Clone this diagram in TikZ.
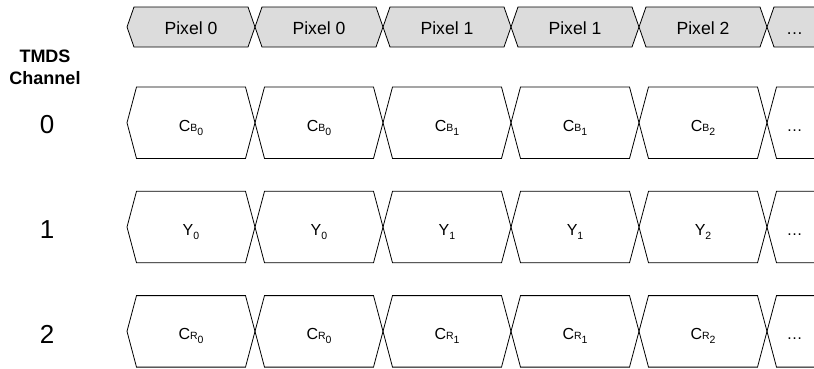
\documentclass[tikz,border=0pt]{standalone}
\usepackage{fontspec}
\setmainfont{Liberation Sans}
\definecolor{hdrgray}{RGB}{220,220,220}
\newcommand{\chlab}[3]{{\fontsize{16}{18}\selectfont #1}{\fontsize{10.5}{12}\selectfont #2\raisebox{-4pt}{#3}}}
\tikzset{
  slot/.style={draw=black, line width=0.8pt, line join=miter},
  hdrslot/.style={slot, fill=hdrgray},
  hdrtext/.style={inner sep=0pt, anchor=base, font=\fontsize{17.6}{20}\selectfont},
  chtext/.style={inner sep=0pt, anchor=base},
  dotstext/.style={inner sep=0pt, anchor=base, font=\fontsize{17}{20}\selectfont},
  sidebold/.style={inner sep=0pt, anchor=base, font=\bfseries\fontsize{18}{20}\selectfont},
  sidenum/.style={inner sep=0pt, anchor=base, font=\fontsize{26}{28}\selectfont},
}
\begin{document}
\begin{tikzpicture}[x=1pt,y=-1pt]
\useasboundingbox (0,0) rectangle (814,368);

% header row
\foreach \i/\t in {0/Pixel 0,1/Pixel 0,2/Pixel 1,3/Pixel 1,4/Pixel 2} {
  \pgfmathsetmacro\xa{127+128*\i}
  \pgfmathsetmacro\xb{\xa+128}
  \draw[hdrslot] (\xa,27) -- (\xa+7,7) -- (\xb-7,7) -- (\xb,27) -- (\xb-7,47) -- (\xa+7,47) -- cycle;
  \node[hdrtext] (p\i) at ({(\xa+\xb)/2},34.3) {\t};
}
\draw[hdrslot] (814,7) -- (774,7) -- (767,27) -- (774,47) -- (814,47);
\node[dotstext] (pe) at (794.5,34.3) {…};

% side labels
\node[sidebold] (tmds) at (45,62.7) {TMDS};
\node[sidebold] (chan) at (45,84) {Channel};
\node[sidenum] (n0) at (47,133.3) {0};
\node[sidenum] (n1) at (47,238.3) {1};
\node[sidenum] (n2) at (47,343.3) {2};

% channel rows
\foreach \r/\M/\S in {0/C/B,1/Y/{},2/C/R} {
  \pgfmathsetmacro\yt{87+104.3*\r}
  \pgfmathsetmacro\yb{\yt+71.5}
  \pgfmathsetmacro\ym{\yt+35.75}
  \foreach \i/\k in {0/0,1/0,2/1,3/1,4/2} {
    \pgfmathsetmacro\xa{127+128*\i}
    \pgfmathsetmacro\xb{\xa+128}
    \draw[slot] (\xa,\ym) -- (\xa+9.5,\yt) -- (\xb-9.5,\yt) -- (\xb,\ym) -- (\xb-9.5,\yb) -- (\xa+9.5,\yb) -- cycle;
    \node[chtext] (c\r-\i) at ({(\xa+\xb)/2},\ym+8.5) {\chlab{\M}{\S}{\k}};
  }
  \draw[slot] (814,\yt) -- (776.5,\yt) -- (767,\ym) -- (776.5,\yb) -- (814,\yb);
  \node[dotstext, font=\fontsize{16}{18}\selectfont] (ce\r) at (794.5,\ym+8.5) {…};
}
\end{tikzpicture}
\end{document}
